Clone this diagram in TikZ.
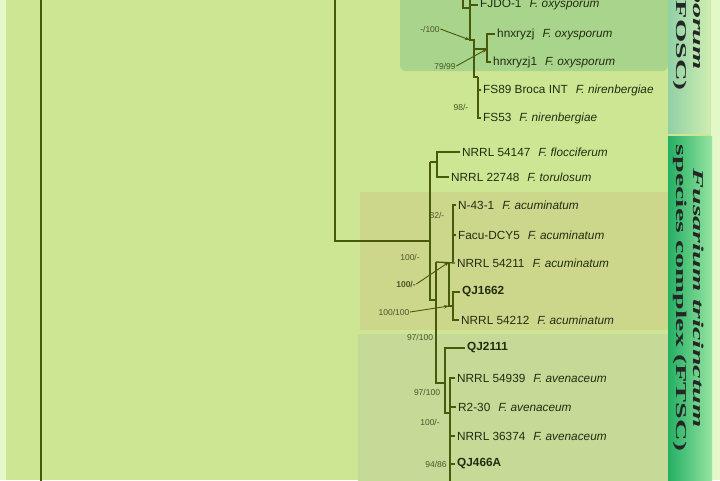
\documentclass[tikz,border=0pt]{standalone}
\usepackage{fontspec}
\setmainfont{Liberation Sans}
\newfontfamily\barfont{Liberation Serif}
\usetikzlibrary{arrows.meta,positioning}
\definecolor{treebg}{RGB}{205,230,148}
\definecolor{edgepale}{RGB}{228,247,200}
\definecolor{foscbox}{RGB}{168,212,140}
\definecolor{acubox}{RGB}{205,215,140}
\definecolor{avebox}{RGB}{196,218,150}
\definecolor{foscbarL}{RGB}{145,208,165}
\definecolor{foscbarR}{RGB}{205,238,178}
\definecolor{ftscbarL}{RGB}{35,175,100}
\definecolor{ftscbarR}{RGB}{150,228,160}
\definecolor{treeline}{RGB}{70,90,10}
\definecolor{tiptext}{RGB}{35,45,15}
\definecolor{boottext}{RGB}{75,85,40}
\newcommand{\spname}[1]{\textit{#1}}
\newcommand{\tgap}{\hspace{8pt}}
\tikzset{
  branch/.style={draw=treeline,line width=1.3pt},
  thickbr/.style={draw=treeline,line width=2.6pt},
  tip/.style={anchor=west,inner sep=2pt,text=tiptext,font=\fontsize{11.8}{13}\selectfont},
  tipb/.style={tip,font=\fontsize{11.8}{13}\selectfont\bfseries},
  boot/.style={inner sep=0.5pt,text=boottext,font=\fontsize{8.5}{10}\selectfont},
  bootarr/.style={-{Stealth[length=5pt,width=3.5pt]},draw=treeline,line width=0.9pt},
  barlabel/.style={rotate=-90,xscale=2,align=center,text=black!85,font=\barfont\bfseries\fontsize{15}{17}\selectfont}
}
\begin{document}
\begin{tikzpicture}[x=1pt,y=-1pt]
  \useasboundingbox (0,0) rectangle (720,480);
  \clip (0,0) rectangle (720,480);
  \fill[treebg] (0,0) rectangle (720,480);
  \fill[edgepale] (0,0) rectangle (6,480);
  \fill[edgepale] (711,0) rectangle (720,480);
  \fill[foscbox,rounded corners=6pt] (400,-10) rectangle (668,71);
  \fill[acubox] (360,192) rectangle (668,330);
  \fill[avebox] (358,334) rectangle (668,490);
  \shade[left color=foscbarL,right color=foscbarR] (668,-10) rectangle (710,133);
  \shade[left color=ftscbarL,right color=ftscbarR] (668,136) rectangle (712,490);
  \node[barlabel] (fosclab) at (689,-64) {\spname{Fusarium oxysporum}\\species complex (FOSC)};
  \node[barlabel] (ftsclab) at (689,298) {\spname{Fusarium tricinctum}\\species complex (FTSC)};
  % tips
  \node[tip] (fjdo) at (478,5) {FJDO-1\tgap\spname{F. oxysporum}};
  \node[tip] (hnx1) at (495,34) {hnxryzj\tgap\spname{F. oxysporum}};
  \node[tip] (hnx2) at (491,62) {hnxryzj1\tgap\spname{F. oxysporum}};
  \node[tip] (fs89) at (481,90) {FS89 Broca INT\tgap\spname{F. nirenbergiae}};
  \node[tip] (fs53) at (481,118) {FS53\tgap\spname{F. nirenbergiae}};
  \node[tip] (floc) at (460,152) {NRRL 54147\tgap\spname{F. flocciferum}};
  \node[tip] (toru) at (449,177) {NRRL 22748\tgap\spname{F. torulosum}};
  \node[tip] (n431) at (456,205) {N-43-1\tgap\spname{F. acuminatum}};
  \node[tip] (facu) at (456,235) {Facu-DCY5\tgap\spname{F. acuminatum}};
  \node[tip] (n54211) at (455,263) {NRRL 54211\tgap\spname{F. acuminatum}};
  \node[tipb] (qj1662) at (460,292) {QJ1662};
  \node[tip] (n54212) at (459,320) {NRRL 54212\tgap\spname{F. acuminatum}};
  \node[tipb] (qj2111) at (465,348) {QJ2111};
  \node[tip] (n54939) at (455,378) {NRRL 54939\tgap\spname{F. avenaceum}};
  \node[tip] (r230) at (456,407) {R2-30\tgap\spname{F. avenaceum}};
  \node[tip] (n36374) at (455,436) {NRRL 36374\tgap\spname{F. avenaceum}};
  \node[tipb] (qj466) at (455,464) {QJ466A};
  % backbone
  \coordinate (root) at (41,-10); \coordinate (rootb) at (41,490);
  \draw[branch] (root) -- (rootb);
  \coordinate (top) at (335,-10); \coordinate (ftsc) at (430,241);
  \draw[branch] (top) |- (ftsc);
  % FOSC part
  \coordinate (fo0) at (463,-10); \coordinate (fo1) at (463,8);
  \coordinate (fx) at (470,-10); \coordinate (fy) at (470,40);
  \coordinate (fz) at (474,40); \coordinate (fw) at (474,77);
  \coordinate (hn) at (474,49); \coordinate (hx) at (487,49);
  \coordinate (fs) at (478,77);
  \draw[branch] (fo0) |- (fx |- fo1);
  \draw[branch] (fx) -- (fy) -- (fz) -- (fw) -- (fs);
  \draw[branch] (fjdo.west) -| (fy);
  \draw[branch] (hn) -- (hx);
  \draw[branch] (hnx1.west) -| (hx);
  \draw[branch] (hnx2.west) -| (hx);
  \draw[branch] (fs89.west) -| (fs);
  \draw[branch] (fs53.west) -| (fs);
  \draw[thickbr] (478,92) -- (478,110);
  % FTSC part
  \coordinate (fa) at (430,162); \coordinate (fb) at (430,300);
  \coordinate (ft) at (437,162);
  \coordinate (bn) at (436,300); \coordinate (b1) at (436,262); \coordinate (b2) at (436,383);
  \coordinate (ac) at (453,262);
  \coordinate (c1) at (449,262); \coordinate (c2) at (449,306); \coordinate (qq) at (453,306);
  \coordinate (av) at (445,383); \coordinate (av2) at (445,413); \coordinate (av3) at (450,413);
  \coordinate (avend) at (450,490);
  \draw[branch] (fa) -- (fb) -- (bn);
  \draw[branch] (fa) -- (ft);
  \draw[branch] (floc.west) -| (ft);
  \draw[branch] (toru.west) -| (ft);
  \draw[branch] (b1) -- (b2) -- (av);
  \draw[branch] (b1) -- (n54211.west);
  \draw[branch] (n431.west) -| (ac);
  \draw[branch] (facu.west) -| (ac);
  \draw[thickbr] (453,212) -- (453,238);
  \draw[branch] (c1) -- (c2) -- (qq);
  \draw[branch] (qj1662.west) -| (qq);
  \draw[branch] (n54212.west) -| (qq);
  \draw[branch] (qj2111.west) -| (av);
  \draw[branch] (av) -- (av2) -- (av3) -- (avend);
  \draw[branch] (n54939.west) -| (av3);
  \draw[branch] (r230.west) -| (av3);
  \draw[branch] (n36374.west) -| (av3);
  \draw[branch] (qj466.west) -| (av3);
  \draw[thickbr] (450,400) -- (avend);
  % support values
  \node[boot] (bs1) at (430,29) {-/100};
  \node[boot] (bs2) at (445,66) {79/99};
  \node[boot] (bs3) at (461,107) {98/-};
  \node[boot] (bs4) at (437,215) {82/-};
  \node[boot] (bs5) at (410,257) {100/-};
  \node[boot,font=\fontsize{8.5}{10}\selectfont\bfseries] (bs6) at (406,284) {100/-};
  \node[boot] (bs7) at (394,312) {100/100};
  \node[boot] (bs8) at (420,337) {97/100};
  \node[boot] (bs9) at (427,392) {97/100};
  \node[boot] (bs10) at (430,422) {100/-};
  \node[boot] (bs11) at (436,464) {94/86};
  \draw[bootarr] (bs1.east) -- (fy);
  \draw[bootarr] (bs2.east) -- (hx);
  \draw[bootarr] (bs6.east) -- (c1);
  \draw[bootarr] (bs7.east) -- (c2);
\end{tikzpicture}
\end{document}
